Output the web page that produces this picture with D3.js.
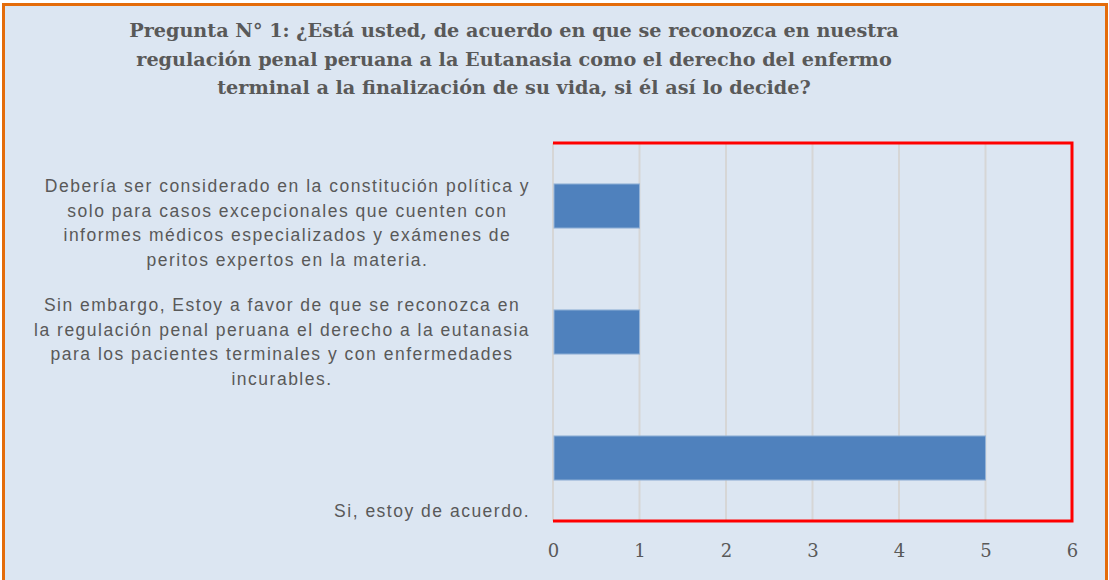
<!DOCTYPE html>
<html>
<head>
<meta charset="utf-8">
<title>Pregunta N° 1</title>
<script src="https://cdnjs.cloudflare.com/ajax/libs/d3/7.8.5/d3.min.js"></script>
<style>
  body { margin: 0; background: #fff; }
  svg { display: block; }
</style>
</head>
<body>
<div id="chart"></div>
<script>
  // chart data
  var titleLines = [
    "Pregunta N° 1: ¿Está usted, de acuerdo en que se reconozca en nuestra",
    "regulación penal peruana a la Eutanasia como el derecho del enfermo",
    "terminal a la finalización de su vida, si él así lo decide?"
  ];
  var categories = [
    ["Debería ser considerado en la constitución política y",
     "solo para casos excepcionales que cuenten con",
     "informes médicos especializados y exámenes de",
     "peritos expertos en la materia."],
    ["Sin embargo, Estoy a favor de que se reconozca en",
     "la regulación penal peruana el derecho a la eutanasia",
     "para los pacientes terminales y con enfermedades",
     "incurables."],
    ["Si, estoy de acuerdo."]
  ];
  var values = [1, 1, 5];
  var xTicks = [0, 1, 2, 3, 4, 5, 6];

  var W = 1109, H = 580;
  var plot = { left: 553, right: 1072, top: 143, bottom: 521 };
  // where Excel put the first label line, relative to the band centre
  var labelShift = [-20, -27, 53];

  var svg = d3.select("#chart").append("svg")
      .attr("width", W)
      .attr("height", H);

  svg.append("rect")
      .attr("x", 3.5).attr("y", 4.5)
      .attr("width", W - 6).attr("height", H - 3)
      .attr("fill", "#dce6f2")
      .attr("stroke", "#e46c0a")
      .attr("stroke-width", 3);

  var x = d3.scaleLinear()
      .domain([0, 6])
      .range([plot.left, plot.right]);

  var y = d3.scaleBand()
      .domain(d3.range(categories.length))
      .range([plot.top, plot.bottom])
      .paddingInner(0.65)
      .paddingOuter(0.325);

  /* gridlines */
  svg.append("g")
      .selectAll("line")
      .data(xTicks)
      .enter()
      .append("line")
      .attr("x1", (d) => x(d)).attr("x2", (d) => x(d))
      .attr("y1", plot.top).attr("y2", plot.bottom)
      .attr("stroke", "#d6d6d6")
      .attr("stroke-width", 2);

  /* bars */
  svg.append("g")
      .selectAll("rect")
      .data(values)
      .enter()
      .append("rect")
      .attr("x", x(0) + 1)
      .attr("y", (d, i) => y(i))
      .attr("width", (d) => x(d) - x(0) - 1)
      .attr("height", y.bandwidth())
      .attr("fill", "#4f81bd")
      .attr("stroke", "#95b3d7")
      .attr("stroke-width", 1);

  /* red frame on top, right and bottom */
  svg.append("path")
      .attr("d", "M" + plot.left + "," + plot.top +
                 "H" + plot.right + "V" + plot.bottom + "H" + plot.left)
      .attr("fill", "none")
      .attr("stroke", "#ff0000")
      .attr("stroke-width", 3);

  /* x axis */
  var xAxis = svg.append("g")
      .attr("transform", "translate(0," + (plot.bottom + 23) + ")")
      .call(d3.axisBottom(x).tickValues(xTicks).tickFormat(d3.format("d"))
            .tickSize(0).tickPadding(0));
  xAxis.select(".domain").remove();
  xAxis.selectAll("text")
      .attr("fill", "#595959")
      .attr("dy", "0.71em")
      .style("font-family", "'DejaVu Serif', 'Liberation Serif', serif")
      .style("font-size", "18px");

  /* category labels: block centred, block right edge against the axis */
  var labels = svg.append("g")
      .style("font-family", "'Liberation Sans', Arial, sans-serif")
      .style("font-size", "17.5px")
      .style("letter-spacing", "1.5px")
      .attr("fill", "#595959");

  categories.forEach(function (lines, i) {
      var t = labels.append("text")
          .attr("text-anchor", "middle");
      lines.forEach(function (ln, j) {
          t.append("tspan")
              .attr("x", 0)
              .attr("y", y(i) + y.bandwidth() / 2 + labelShift[i] + j * 24.5)
              .attr("dy", "0.35em")
              .text(ln);
      });
      var maxW = d3.max(t.selectAll("tspan").nodes(), (n) => n.getComputedTextLength());
      t.selectAll("tspan").attr("x", plot.left - 23 - maxW / 2);
  });

  /* title, sized so the first line spans the same width as in the original */
  var title = svg.append("text")
      .attr("text-anchor", "middle")
      .attr("fill", "#595959")
      .style("font-family", "'DejaVu Serif', 'Liberation Serif', serif")
      .style("font-weight", "bold")
      .style("font-size", "18px");
  title.selectAll("tspan")
      .data(titleLines)
      .enter()
      .append("tspan")
      .attr("x", 514)
      .attr("y", (d, i) => 37 + i * 28.5)
      .text((d) => d);
  var w0 = title.select("tspan").node().getComputedTextLength();
  title.style("font-size", (18 * 770 / w0) + "px");
</script>
</body>
</html>
